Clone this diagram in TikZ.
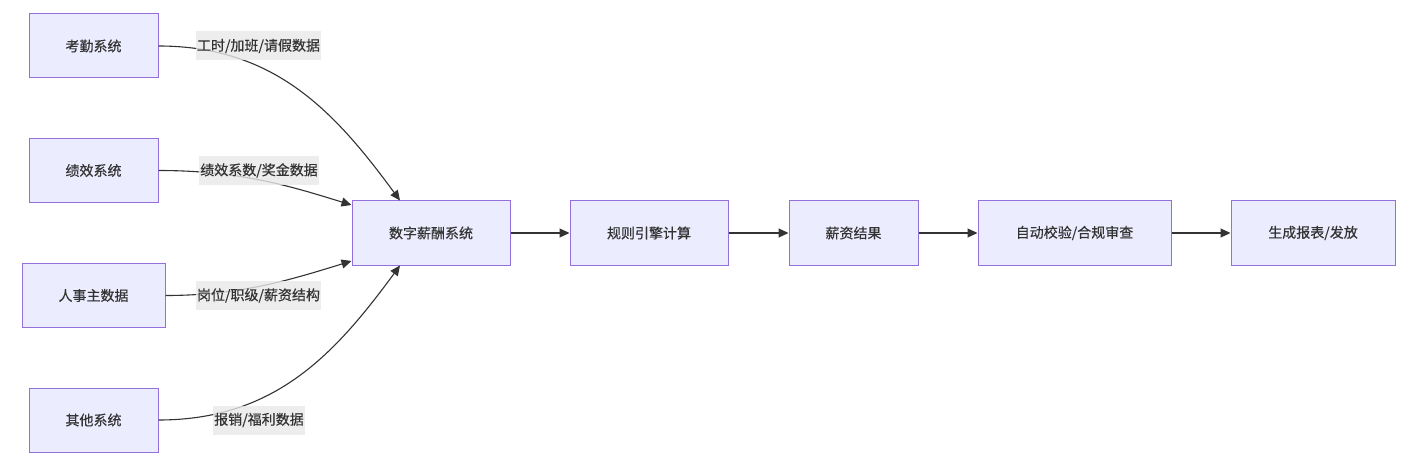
\documentclass[tikz,border=0pt]{standalone}
\usepackage{fontspec}
\setmainfont{Noto Sans CJK SC}[FakeBold=0.4]
\usetikzlibrary{arrows.meta}

\definecolor{nodefill}{HTML}{ECECFF}
\definecolor{nodeline}{HTML}{9370DB}
\definecolor{textcol}{HTML}{333333}
\definecolor{labelbg}{HTML}{E8E8E8}

\begin{document}
\begin{tikzpicture}[x=1pt,y=-1pt,
  main node/.style={rectangle,draw=nodeline,fill=nodefill,line width=1pt,
    text=textcol,minimum height=64pt,inner sep=0pt,
    font=\fontsize{14}{16}\selectfont},
  edge label/.style={rectangle,fill=labelbg,fill opacity=0.8,text opacity=1,
    text=textcol,minimum height=29pt,inner xsep=1pt,inner ysep=0pt,
    font=\fontsize{14}{16}\selectfont},
  arr/.style={draw=textcol,line width=1.1pt,-{Triangle[length=10pt,width=9pt]}}]
  \useasboundingbox (0,0) rectangle (1410,465);

  % source systems
  \node[main node,minimum width=129pt] (n0) at (93.5,46) {考勤系统};
  \node[main node,minimum width=129pt] (n1) at (93.5,170.5) {绩效系统};
  \node[main node,minimum width=143pt] (n2) at (93.5,295.5) {人事主数据};
  \node[main node,minimum width=129pt] (n3) at (93.5,420) {其他系统};

  % main chain
  \node[main node,minimum width=158pt] (n4) at (431,233) {数字薪酬系统};
  \node[main node,minimum width=158pt] (n5) at (649,233) {规则引擎计算};
  \node[main node,minimum width=129pt] (n6) at (853.5,233) {薪资结果};
  \node[main node,minimum width=193pt] (n7) at (1074.5,233) {自动校验/合规审查};
  \node[main node,minimum width=164pt] (n8) at (1313,233) {生成报表/发放};

  \draw[arr] (n0.east) .. controls (275,46) and (335,112) .. ([xshift=-31pt]n4.north);
  \draw[arr] (n1.east) .. controls (240,170.5) and (290,186) .. ([yshift=28pt]n4.west);
  \draw[arr] (n2.east) .. controls (240,295.5) and (290,280) .. ([yshift=-28pt]n4.west);
  \draw[arr] (n3.east) .. controls (275,420) and (335,354) .. ([xshift=-31pt]n4.south);

  \draw[arr] (n4) -- (n5);
  \draw[arr] (n5) -- (n6);
  \draw[arr] (n6) -- (n7);
  \draw[arr] (n7) -- (n8);

  % edge labels
  \node[edge label] (l0) at (258.5,46) {工时/加班/请假数据};
  \node[edge label] (l1) at (259,170.5) {绩效系数/奖金数据};
  \node[edge label] (l2) at (258.5,295.5) {岗位/职级/薪资结构};
  \node[edge label] (l3) at (259,420) {报销/福利数据};
\end{tikzpicture}
\end{document}
